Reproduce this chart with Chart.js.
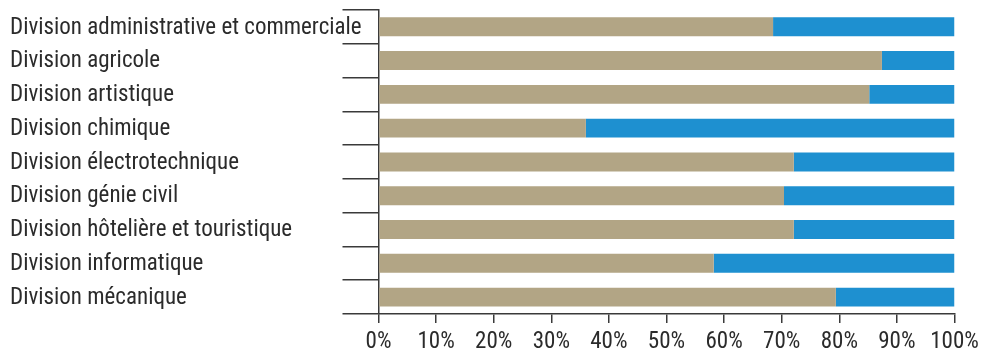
<!DOCTYPE html>
<html>
<head>
<meta charset="utf-8">
<script src="https://cdn.jsdelivr.net/npm/chart.js@4"></script>
<style>
  html, body { margin: 0; padding: 0; background: #fff; }
  #wrap { width: 982px; height: 353px; }
</style>
</head>
<body>
<div id="wrap"><canvas id="c"></canvas></div>
<script>
// ─── Data ──────────────────────────────────────────────────────────────
const divisions = [
  'Division administrative et commerciale',
  'Division agricole',
  'Division artistique',
  'Division chimique',
  'Division électrotechnique',
  'Division génie civil',
  'Division hôtelière et touristique',
  'Division informatique',
  'Division mécanique'
];
const shareTan  = [68.5, 87.4, 85.2, 36.0, 72.1, 70.4, 72.1, 58.2, 79.4];
const shareBlue = [31.5, 12.6, 14.8, 64.0, 27.9, 29.6, 27.9, 41.8, 20.6];

const FONT = "'Liberation Sans Narrow', 'Arial Narrow', 'Roboto Condensed', sans-serif";
const AXIS = '#3a3a3a';
const TEXT = '#2b2b2b';

new Chart(document.getElementById('c'), {
  type: 'bar',
  data: {
    labels: divisions,
    datasets: [
      { data: shareTan, backgroundColor: '#b2a585', barPercentage: 0.56, categoryPercentage: 1 },
      { data: shareBlue, backgroundColor: '#1e90d0', barPercentage: 0.56, categoryPercentage: 1 }
    ]
  },
  options: {
    indexAxis: 'y',
    responsive: true,
    maintainAspectRatio: false,
    animation: false,
    layout: { padding: { left: 10, top: 8, right: 27.5, bottom: 0 } },
    plugins: { legend: { display: false }, tooltip: { enabled: false } },
    scales: {
      x: {
        stacked: true,
        min: 0,
        max: 100,
        ticks: {
          stepSize: 10,
          color: TEXT,
          padding: 5,
          font: { family: FONT, size: 23 },
          callback: v => v + '%'
        },
        grid: { drawOnChartArea: false, color: AXIS, lineWidth: 1.5, tickLength: 9 },
        border: { color: AXIS, width: 1.5 },
        // fixed height; let the "100%" label hang into the right margin
        afterFit: s => { s.height = 39; s.paddingRight = 0; }
      },
      y: {
        stacked: true,
        ticks: {
          color: TEXT,
          crossAlign: 'far',
          labelOffset: 1,
          font: { family: FONT, size: 23, lineHeight: 0.6 }
        },
        grid: { offset: true, drawOnChartArea: false, color: AXIS, lineWidth: 1.5, tickLength: 36 },
        border: { color: AXIS, width: 1.5 },
        afterFit: s => { s.width = 368.5; }
      }
    }
  }
});
</script>
</body>
</html>
